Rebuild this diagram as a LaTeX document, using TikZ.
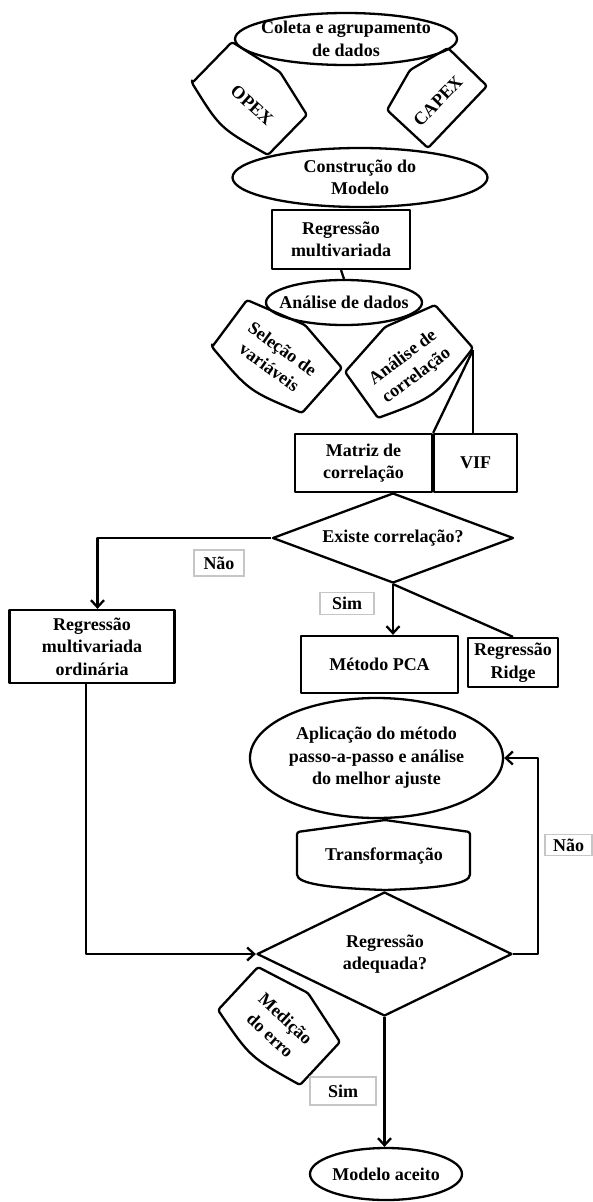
\documentclass[tikz,border=0pt]{standalone}
\usepackage{fontspec}
\setmainfont{Liberation Serif}
\usetikzlibrary{shapes.geometric,arrows.meta}
\begin{document}
\begin{tikzpicture}[x=1pt,y=-1pt,
  every node/.style={font=\fontsize{18}{22.5}\selectfont\bfseries, align=center, inner sep=0pt},
  ln/.style={line width=2.3pt, line join=round},
  ell/.style={ln, draw, ellipse, inner sep=0pt},
  box/.style={ln, draw, rectangle},
  dia/.style={ln, draw, diamond, inner sep=0pt},
  lbl/.style={draw=gray!45, line width=1.2pt, fill=white, inner sep=0pt},
  arr/.style={ln, -{Straight Barb[length=7pt,width=13pt]}},
  shp/.style={ln, rounded corners=2.5pt}
]
\useasboundingbox (0,0) rectangle (593,1202);

% top ellipses
\node[ell, minimum width=222pt, minimum height=52pt] (coleta) at (346,39) {};
\node (coletat) at (coleta.center) {Coleta e agrupamento\\de dados};
\node[ell, minimum width=255pt, minimum height=59pt] (constr) at (360,177.5) {};
\node (constrt) at (constr.center) {Construção do\\Modelo};

% OPEX and CAPEX
\draw[shp] (192,83) -- (232,42) -- (280,72) -- (307,115) -- (268,155) .. controls (220,128) .. cycle;
\node[rotate=-42] (opex) at (252,105) {OPEX};
\draw[shp] (410,70) -- (448,48) -- (487,86) -- (428,148) -- (387,110) -- cycle;
\node[rotate=46] (capex) at (438,101) {CAPEX};

% regression box and data analysis
\node[box, minimum width=138pt, minimum height=59pt] (rm) at (341,239.5) {Regressão\\multivariada};
\node[ell, minimum width=156pt, minimum height=45pt] (adados) at (344,302.5) {};
\node (adadost) at (adados.center) {Análise de dados};
\draw[ln] (rm.south) -- (adados.north);

% selection / correlation shapes
\draw[shp] (212,347) -- (247,300) -- (305,325) -- (342,368) -- (302,413) .. controls (249,391) .. cycle;
\node[rotate=-36] (selecao) at (276,358) {Seleção de\\variáveis};
\draw[shp] (345,372) -- (385,327) -- (435,305) -- (473,348) .. controls (435,397) .. (378,418) -- cycle;
\node[rotate=37] (acorr) at (410,367) {Análise de\\correlação};
\coordinate (acR) at (473,350);

% matrix and VIF
\node[box, minimum width=137pt, minimum height=58pt] (matriz) at (363.5,463) {Matriz de\\correlação};
\node[box, minimum width=83pt, minimum height=58pt] (vif) at (475.5,463) {VIF};
\draw[ln] (acR) -- (matriz.north east);
\draw[ln] (acR) -- (acR |- vif.north);

% first decision
\node[dia, aspect=2.68, minimum width=241pt, minimum height=90pt] (ex) at (393,538) {Existe correlação?};
\node[box, minimum width=165pt, minimum height=73pt] (rord) at (92,646.5) {Regressão\\multivariada\\ordinária};
\node[box, minimum width=157pt, minimum height=57pt] (pca) at (379.5,664.5) {Método PCA};
\node[box, minimum width=90pt, minimum height=49pt] (ridge) at (513,662.5) {Regressão\\Ridge};
\draw[arr] (ex.west) -| ([xshift=5.5pt]rord.north);
\draw[arr] (ex.south) -- (ex.south |- pca.north);
\draw[ln] (ex.south) -- (ridge.north);
\node[lbl, minimum width=50pt, minimum height=26pt] (nao1) at (219,563) {Não};
\node[lbl, minimum width=54pt, minimum height=22pt] (sim1) at (347,603.5) {Sim};

% stepwise and transformation
\node[ell, minimum width=253pt, minimum height=120pt] (apl) at (376.5,758) {};
\node (aplt) at (apl.center) {Aplicação do método\\passo-a-passo e análise\\do melhor ajuste};
\draw[shp] (297,832) -- (385,820) -- (470,832) -- (470,872) .. controls (470,884) and (440,888) .. (385,890) .. controls (330,888) and (297,884) .. (297,872) -- cycle;
\node (transf) at (384,856) {Transformação};

% second decision
\node[dia, aspect=2.06, minimum width=255pt, minimum height=124pt] (ad) at (384.5,954) {};
\node (adt) at (385,954) {Regressão\\adequada?};
\draw[arr] ([xshift=-6pt]rord.south) |- (ad.west);
\draw[arr] (ad.east) -- ++(25,0) |- (apl.east);
\node[lbl, minimum width=47pt, minimum height=21pt] (nao2) at (568.5,845) {Não};

% error measurement
\draw[shp] (258,967) -- (308,993) -- (340,1042) -- (300,1085) .. controls (250,1057) .. (218,1010) -- cycle;
\node[rotate=-43] (medicao) at (278,1027) {Medição\\do erro};
\node[lbl, minimum width=66pt, minimum height=28pt] (sim2) at (343,1091) {Sim};

% accepted model
\node[ell, minimum width=152pt, minimum height=52pt] (modelo) at (386,1174) {};
\node (modelot) at (modelo.center) {Modelo aceito};
\draw[arr] (ad.south) -- (ad.south |- modelo.north);
\end{tikzpicture}
\end{document}
